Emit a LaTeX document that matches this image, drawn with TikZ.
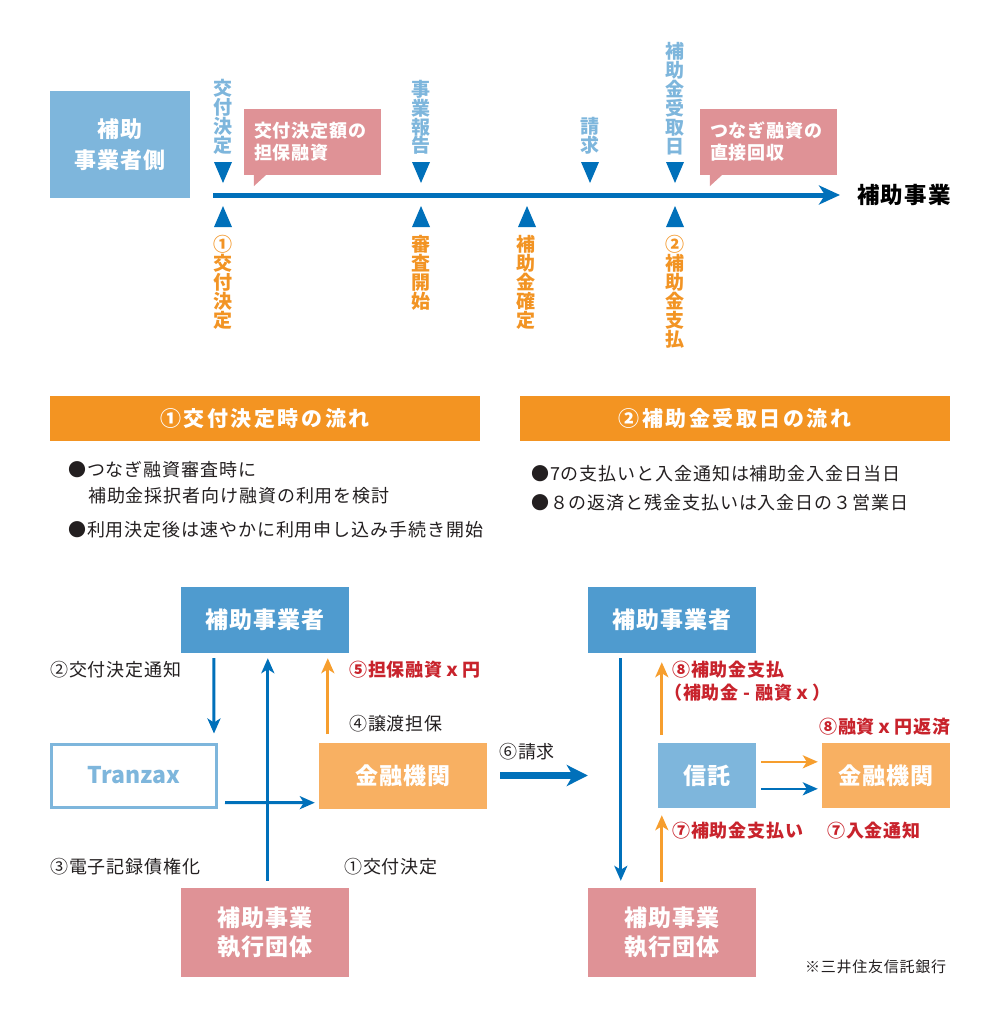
\documentclass[tikz,border=0pt]{standalone}
\usepackage{fontspec}
\setmainfont{Noto Sans CJK JP}[LetterSpace=5]
\newfontfamily\headfont{Noto Sans CJK JP}[LetterSpace=12]
\newfontfamily\latfont{Noto Sans CJK JP}
\usetikzlibrary{arrows.meta,calc,positioning}
\definecolor{tlblue}{RGB}{0,112,186}
\definecolor{lightblue}{RGB}{126,182,220}
\definecolor{boxblue}{RGB}{79,155,207}
\definecolor{pinkbox}{RGB}{223,146,150}
\definecolor{orangebar}{RGB}{243,148,34}
\definecolor{orangebox}{RGB}{248,176,98}
\definecolor{orangetxt}{RGB}{242,148,36}
\definecolor{orangearr}{RGB}{246,158,46}
\definecolor{redtxt}{RGB}{200,35,44}
\definecolor{txtgray}{RGB}{35,31,32}
\newcommand\fsz[1]{\fontsize{#1}{#1}\selectfont}

\begin{document}
\begin{tikzpicture}[x=1pt,y=-1pt,>={Stealth[length=15pt,width=13pt,inset=4pt]},
		ebox/.style={minimum width=168pt,minimum height=66pt,inner sep=0pt,text=white,font=\bfseries\fsz{23}},
		bubble/.style={fill=pinkbox,text=white,font=\bfseries\fontsize{18}{22}\selectfont,align=left,text width=117pt,minimum height=66pt,inner xsep=10pt,inner ysep=0pt},
		vlab/.style={align=center,inner sep=0pt,font=\bfseries\fontsize{19}{19}\selectfont},
		note/.style={anchor=west,inner sep=0pt,text=txtgray,font=\fsz{18}},
		rednote/.style={anchor=west,inner sep=0pt,text=redtxt,font=\bfseries\fsz{18}},
		hbar/.style={fill=orangebar,minimum width=430pt,minimum height=45pt,inner sep=0pt,text=white,font=\headfont\bfseries\fsz{21}},
		flow/.style={->,line width=3pt,tlblue},
		pay/.style={->,line width=3pt,orangearr}]
	\useasboundingbox (0,0) rectangle (1000,1021);

	\node[ebox,fill=lightblue,minimum width=140pt,minimum height=107pt,align=center,font=\bfseries\fontsize{22}{31}\selectfont] (side) at (120,144.5) {補助\\事業者側};
	\coordinate (tl0) at (213,195);
	\coordinate (tl1) at (840,195);
	\draw[tlblue,line width=5pt,-{Stealth[length=21pt,width=19pt,inset=6pt]}] (tl0) -- (tl1);
	\node[anchor=west,inner sep=0pt,font=\bfseries\fsz{22.5}] (proj) at (857,195) {補助事業};
	\foreach \x in {223,421,590,675}
		\fill[tlblue] (\x-9,162) -- (\x+9,162) -- (\x,183) -- cycle;
	\foreach \x in {223,421,527,675}
		\fill[tlblue] (\x-9,227) -- (\x+9,227) -- (\x,206) -- cycle;

	\node[vlab,text=lightblue,anchor=south] (d1) at (223,155) {交\\付\\決\\定};
	\node[vlab,text=lightblue,anchor=south] (d2) at (421,155) {事\\業\\報\\告};
	\node[vlab,text=lightblue,anchor=south] (d3) at (590,155) {請\\求};
	\node[vlab,text=lightblue,anchor=south] (d4) at (675,155) {補\\助\\金\\受\\取\\日};
	\node[vlab,text=orangetxt,anchor=north] (u1) at (223,235) {①\\交\\付\\決\\定};
	\node[vlab,text=orangetxt,anchor=north] (u2) at (421,235) {審\\査\\開\\始};
	\node[vlab,text=orangetxt,anchor=north] (u3) at (526,235) {補\\助\\金\\確\\定};
	\node[vlab,text=orangetxt,anchor=north] (u4) at (675,235) {②\\補\\助\\金\\支\\払};

	\node[bubble] (cb1) at (312.5,142) {交付決定額の\\担保融資};
	\fill[pinkbox] ($(cb1.south west)+(10,0)$) -- ++(0,11) -- ++(12,-11) -- cycle;
	\node[bubble] (cb2) at (768.5,142) {つなぎ融資の\\直接回収};
	\fill[pinkbox] ($(cb2.south west)+(10,0)$) -- ++(0,11) -- ++(12,-11) -- cycle;

	\node[hbar] (h1) at (265,418.5) {①交付決定時の流れ};
	\node[hbar] (h2) at (735,418.5) {②補助金受取日の流れ};
	\node[note] (b1) at (68,470) {●つなぎ融資審査時に};
	\node[note] (b1a) at (88,496) {補助金採択者向け融資の利用を検討};
	\node[note] (b2) at (68,530) {●利用決定後は速やかに利用申し込み手続き開始};
	\node[note] (b3) at (531,474) {●7の支払いと入金通知は補助金入金日当日};
	\node[note] (b4) at (531,503) {●８の返済と残金支払いは入金日の３営業日};

	\node[ebox,fill=boxblue] (sjA) at (265,620) {補助事業者};
	\node[ebox,fill=white,draw=lightblue,line width=3pt,minimum width=165pt,minimum height=63pt,text=lightblue,font=\latfont\bfseries\fsz{23}] (tz) at (134,775.5) {Tranzax};
	\node[ebox,fill=orangebox] (kyA) at (403,775.5) {金融機関};
	\node[ebox,fill=pinkbox,minimum height=89pt,align=center,font=\bfseries\fontsize{23}{29}\selectfont] (dtA) at (265,932.5) {補助事業\\執行団体};
	\draw[flow] ($(sjA.south west)+(33,5)$) -- ($(tz.north east)+(-4,-9)$);
	\draw[flow] ($(dtA.north west)+(87,-7)$) -- ($(sjA.south west)+(87,5)$);
	\draw[flow] ($(tz.south east)+(7,-6)$) -- ($(kyA.south west)+(-4,-6)$);
	\draw[pay] ($(kyA.north west)+(9,-8)$) -- ($(sjA.south west)+(147,5)$);
	\node[note] (l2) at (50,670) {②交付決定通知};
	\node[rednote] (l5) at (349,670) {⑤担保融資ｘ円};
	\node[note] (l4) at (349,724) {④譲渡担保};
	\node[note] (l3) at (50,867) {③電子記録債権化};
	\node[note] (l1) at (344,867) {①交付決定};

	\node[note] (l6) at (499,752) {⑥請求};
	\node[ebox,fill=boxblue] (sjB) at (672,620) {補助事業者};
	\draw[tlblue,line width=7pt,shorten <=13pt,-{Stealth[length=21pt,width=21pt,inset=6pt]}] (kyA.east) -- (kyA.east -| sjB.west);

	\node[ebox,fill=lightblue,minimum width=98pt,minimum height=65pt] (stB) at (707,775.5) {信託};
	\node[ebox,fill=orangebox,minimum width=128pt,minimum height=65pt] (kyB) at (886,775.5) {金融機関};
	\node[ebox,fill=pinkbox,minimum height=89pt,align=center,font=\bfseries\fontsize{23}{29}\selectfont] (dtB) at (672,932.5) {補助事業\\執行団体};
	\draw[flow] ($(sjB.south west)+(33,5)$) -- ($(dtB.north west)+(33,-7)$);
	\draw[pay] ($(stB.north west)+(4,-8)$) -- ($(sjB.south west)+(74,9)$);
	\draw[pay] ($(dtB.north west)+(74,-6)$) -- ($(stB.south west)+(4,7)$);
	\draw[pay,line width=2.5pt] ($(stB.north east)+(5,19)$) -- ($(kyB.north west)+(-4,19)$);
	\draw[flow,line width=2.5pt] ($(stB.north east)+(5,46)$) -- ($(kyB.north west)+(-4,46)$);
	\node[rednote] (l8a) at (672,670) {⑧補助金支払};
	\node[rednote] (l8b) at (664,693) {（補助金 - 融資ｘ）};
	\node[rednote] (l8c) at (819,727) {⑧融資ｘ円返済};
	\node[rednote] (l7a) at (672,831) {⑦補助金支払い};
	\node[rednote] (l7b) at (827,831) {⑦入金通知};
	\node[note,font=\fsz{15}] (src) at (805,967) {※三井住友信託銀行};
\end{tikzpicture}
\end{document}
